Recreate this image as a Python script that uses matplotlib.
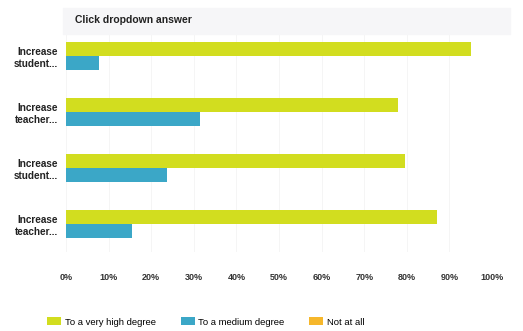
import matplotlib
matplotlib.use('Agg')
import matplotlib.pyplot as plt
from matplotlib.patches import Rectangle
import numpy as np

# data
categories = ['Increase\nstudent...', 'Increase\nteacher...',
              'Increase\nstudent...', 'Increase\nteacher...']
very_high = [95, 78, 79.5, 87]
medium = [7.8, 31.5, 23.8, 15.5]
not_at_all = [0, 0, 0, 0]
ticks = [0, 10, 20, 30, 40, 50, 60, 70, 80, 90, 100]
tick_labels = ['%d%%' % t for t in ticks]

plt.rcParams['font.family'] = ['Liberation Sans', 'DejaVu Sans']

W, H = 523, 331
fig = plt.figure(figsize=(W / 100, H / 100), dpi=100)

# faint header band with the title
fig.patches.append(Rectangle((63 / W, 1 - 34 / H), 447 / W, 26 / H,
                             transform=fig.transFigure, color='#f6f6f8',
                             zorder=0))
fig.text(75 / W, 1 - 20 / H, 'Click dropdown answer', fontsize=7.5,
         fontweight='bold', va='center', ha='left', color='#222222')

ax = fig.add_axes([66 / W, 1 - 252 / H, 426 / W, 224 / H])
ax.patch.set_alpha(0)

y = np.arange(len(categories))
h = 0.25
ax.barh(y - h / 2, very_high, height=h, color='#d2dd1f',
        label='To a very high degree', zorder=2)
ax.barh(y + h / 2, medium, height=h, color='#3ba7c7',
        label='To a medium degree', zorder=2)
ax.barh(y + h * 1.5, not_at_all, height=h, color='#f6b72b',
        label='Not at all', zorder=2)

ax.set_xlim(0, 100)
ax.set_ylim(3.5, -0.5)
ax.set_xticks(ticks)
ax.set_xticklabels(tick_labels, fontsize=6.5, fontweight='bold',
                   color='#333333')
ax.set_yticks(y)
ax.set_yticklabels(categories, fontsize=7.2, fontweight='bold',
                   color='#222222')
ax.tick_params(axis='both', length=0)
ax.tick_params(axis='x', pad=15)
ax.tick_params(axis='y', pad=6)
ax.grid(axis='x', color='#f4f4f4', linewidth=0.6, zorder=0)
for s in ax.spines.values():
    s.set_visible(False)

fig.legend(loc='center left', bbox_to_anchor=(47 / W, 1 - 322 / H),
           ncol=3, frameon=False, fontsize=6.8, handlelength=1.5,
           handleheight=0.9, handletextpad=0.4, columnspacing=2.6,
           borderaxespad=0, borderpad=0)

fig.savefig('out.png', dpi=100)
